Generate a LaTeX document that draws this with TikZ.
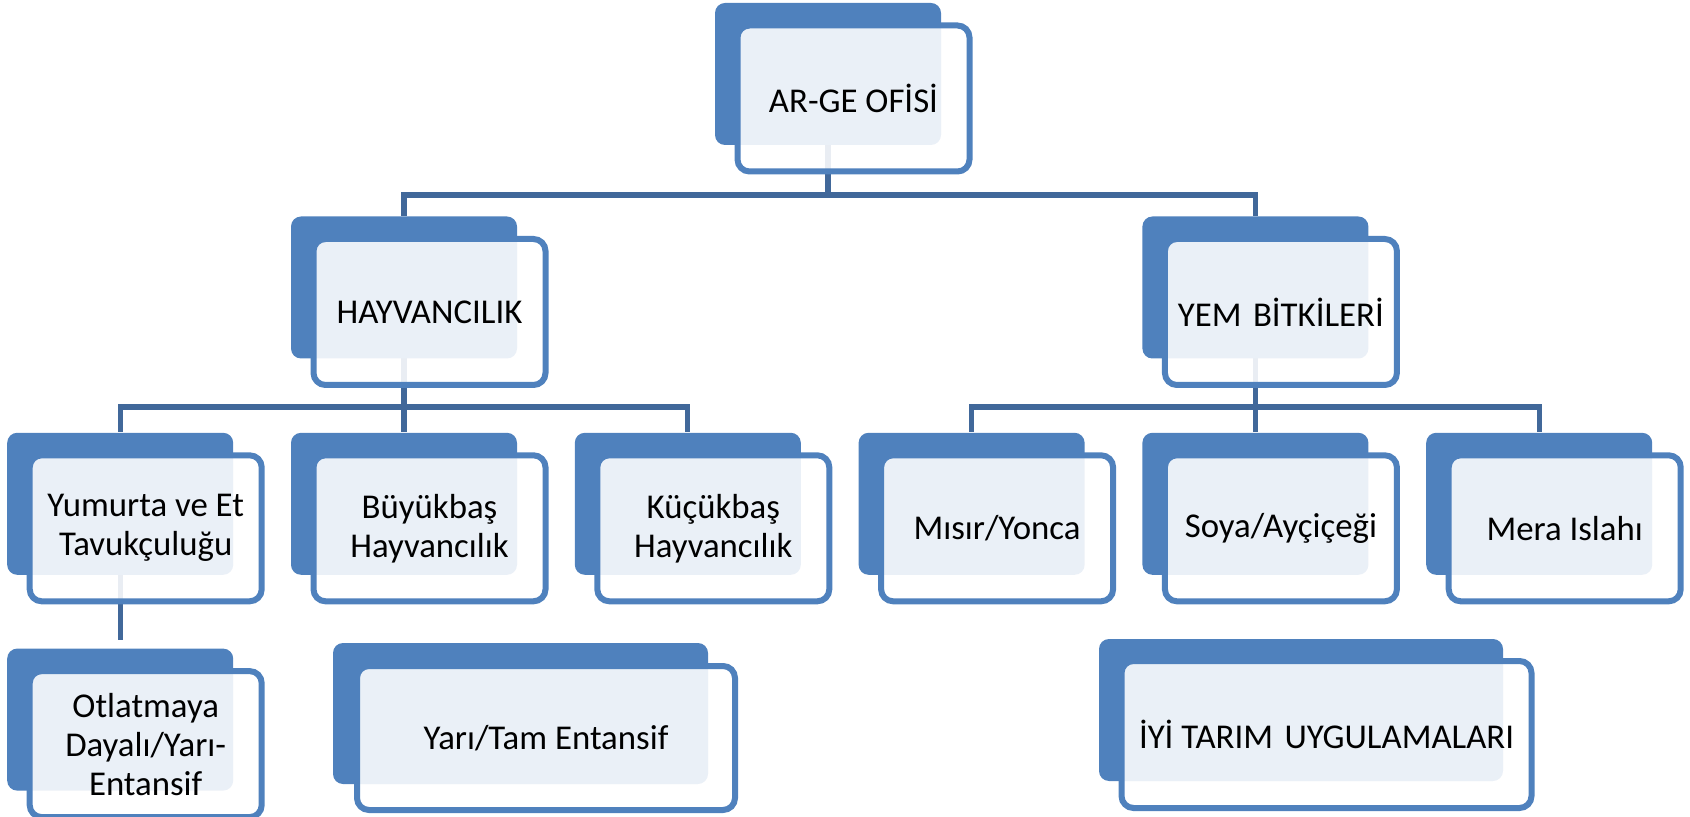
\documentclass[tikz,border=0pt]{standalone}
\usepackage{fontspec}
\setmainfont{Carlito}
\usetikzlibrary{positioning,backgrounds}
\definecolor{OrgBlue}{HTML}{4F81BD}
\definecolor{OrgLine}{HTML}{41689A}

\begin{document}
\begin{tikzpicture}[x=0.5pt,y=-0.5pt,
                    back/.style={rectangle, rounded corners=5pt, fill=OrgBlue, inner sep=0pt,
                                 minimum width=113pt, minimum height=71pt},
                    front/.style={rectangle, rounded corners=6pt, draw=OrgBlue, line width=3pt,
                                  fill=white, fill opacity=0.885, text opacity=1,
                                  align=center, inner sep=0pt,
                                  minimum width=116pt, minimum height=73pt,
                                  font=\fontsize{17.4}{19.5}\selectfont},
                    link/.style={draw=OrgLine, line width=2.6pt}]
\useasboundingbox (0,0) rectangle (1690,817);
% back plates
\node[back] (argeB) at (828,74) {};
\node[back] (hayvB) at (404,287.5) {};
\node[back, below=36.75pt of hayvB] (buyB) {};
\node[back, left=28.5pt of buyB] (yumB) {};
\node[back, right=28.5pt of buyB] (kucB) {};
\node[back, right=28.5pt of kucB] (misB) {};
\node[back, right=28.5pt of misB] (soyB) {};
\node[back, right=28.5pt of soyB] (merB) {};
\node[back, above=36.75pt of soyB] (yemB) {};
\node[back, below=36.5pt of yumB] (otlB) {};
\node[back, minimum width=187.5pt, minimum height=70.5pt] (yarB) at (520.5,713.5) {};
\node[back, minimum width=202pt] (iyiB) at (1301,710) {};
% front boxes
\node[front] (arge) at ([shift={(25.5,24.5)}]argeB.center) {AR-GE OFİSİ};
\node[front] (hayv) at ([shift={(25.5,24.5)}]hayvB.center) {HAYVANCILIK};
\node[front] (yem) at ([shift={(25.5,24.5)}]yemB.center) {YEM\hspace{0.1em} BİTKİLERİ};
\node[front] (yum) at ([shift={(25.5,24.5)}]yumB.center) {Yumurta ve Et\\Tavukçuluğu};
\node[front] (buy) at ([shift={(25.5,24.5)}]buyB.center) {Büyükbaş\\Hayvancılık};
\node[front] (kuc) at ([shift={(25.5,24.5)}]kucB.center) {Küçükbaş\\Hayvancılık};
\node[front] (mis) at ([shift={(25.5,24.5)}]misB.center) {Mısır/Yonca};
\node[front] (soy) at ([shift={(25.5,24.5)}]soyB.center) {Soya/Ayçiçeği};
\node[front] (mer) at ([shift={(25.5,24.5)}]merB.center) {Mera Islahı};
\node[front] (otl) at ([shift={(25.5,24.5)}]otlB.center) {Otlatmaya\\Dayalı/Yarı-\\Entansif};
\node[front, minimum width=189pt, minimum height=72pt] (yar)
  at ([shift={(25.5,24.5)}]yarB.center) {Yarı/Tam Entansif};
\node[front, minimum width=205pt, minimum height=73.5pt] (iyi)
  at ([shift={(25.5,24.5)}]iyiB.center) {İYİ TARIM\hspace{0.1em} UYGULAMALARI};
% connectors
\begin{scope}[on background layer]
\draw[link] (argeB.center) -- ++(0,121) -| (hayvB.north);
\draw[link] (argeB.center) -- ++(0,121) -| (yemB.north);
\draw[link] (hayvB.center) -- ++(0,119.5) -| (yumB.north);
\draw[link] (hayvB.center) -- (buyB.north);
\draw[link] (hayvB.center) -- ++(0,119.5) -| (kucB.north);
\draw[link] (yemB.center) -- ++(0,119.5) -| (misB.north);
\draw[link] (yemB.center) -- (soyB.north);
\draw[link] (yemB.center) -- ++(0,119.5) -| (merB.north);
\draw[link, shorten >=4pt] (yumB.center) -- (otlB.north);
\end{scope}
\end{tikzpicture}
\end{document}
